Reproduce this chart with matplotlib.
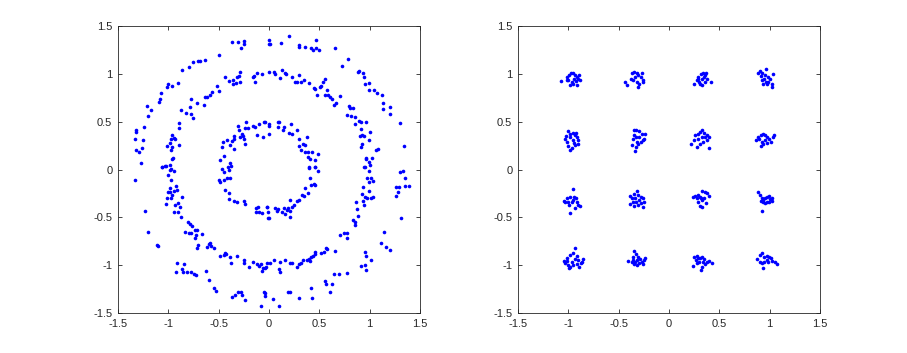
import numpy as np
import matplotlib.pyplot as plt

# left panel: three noisy rings
outer_pts = [
    (-0.365, 1.339), (-0.306, 1.339), (-0.250, 1.346), (-0.243, 1.308), (-0.273, 1.273),
    (0.000, 1.360), (0.002, 1.318), (-0.498, 1.193), (-0.630, 1.147), (-0.680, 1.140),
    (-0.703, 1.137), (-0.753, 1.130), (-0.793, 1.074), (-0.859, 1.039), (-0.908, 0.907),
    (-0.961, 0.872), (-1.004, 0.890), (-1.008, 0.865), (-1.074, 0.802), (-1.084, 0.740),
    (-1.091, 0.705), (-1.174, 0.628), (-1.213, 0.670), (-1.206, 0.562), (-1.240, 0.447),
    (-1.316, 0.412), (-1.319, 0.388), (-1.329, 0.315), (-1.250, 0.311), (-1.316, 0.203),
    (-1.263, 0.231), (-1.289, 0.182), (-1.266, 0.071),
    (0.011, 1.318), (0.124, 1.322), (0.197, 1.395), (0.299, 1.304), (0.303, 1.283),
    (0.362, 1.283), (0.419, 1.269), (0.438, 1.248), (0.465, 1.269), (0.501, 1.252),
    (0.468, 1.357), (0.657, 1.269), (0.786, 1.154), (0.730, 1.085), (0.882, 1.025),
    (0.892, 1.032), (0.935, 1.005), (0.942, 0.963), (0.958, 0.900), (0.998, 0.910),
    (0.992, 0.830), (1.048, 0.830), (1.074, 0.796), (1.124, 0.775), (1.131, 0.698),
    (1.134, 0.632), (1.200, 0.656), (1.203, 0.580), (1.300, 0.492), (1.346, 0.252),
    (-1.332, -0.110), (-1.230, -0.430), (-1.203, -0.650), (-1.110, -0.789), (-1.100, -0.800),
    (-0.915, -0.981), (-0.839, -0.988), (-0.922, -1.075), (-0.862, -1.040), (-0.852, -1.068),
    (-0.812, -1.068), (-0.776, -1.068), (-0.746, -1.092), (-0.720, -1.103), (-0.624, -1.061),
    (-0.591, -1.155), (-0.548, -1.242), (-0.528, -1.270), (-0.362, -1.336), (-0.339, -1.312),
    (-0.309, -1.284), (-0.273, -1.284), (-0.269, -1.312), (-0.240, -1.364), (-0.081, -1.423),
    (-0.051, -1.284), (-0.041, -1.322),
    (1.306, -0.023), (1.333, -0.016), (1.356, -0.092), (1.389, -0.169), (1.349, -0.169),
    (1.290, -0.180), (1.263, -0.180), (1.280, -0.232), (1.263, -0.274), (1.309, -0.510),
    (1.140, -0.650), (1.117, -0.765), (1.164, -0.807), (1.200, -0.842), (0.952, -0.866),
    (0.965, -0.901), (0.919, -1.005), (0.958, -0.998), (1.011, -0.946), (0.965, -1.050),
    (0.644, -1.092), (0.700, -1.096), (0.776, -1.085), (0.554, -1.166), (0.568, -1.200),
    (0.627, -1.200), (0.611, -1.284), (0.419, -1.242), (0.429, -1.340), (0.296, -1.347),
    (0.213, -1.284), (0.190, -1.277), (0.038, -1.354), (0.104, -1.423), (-0.035, -1.294),
]

middle_pts = [
    (-0.435, 0.970), (-0.398, 0.924), (-0.359, 0.935), (-0.329, 0.907), (-0.302, 0.977),
    (-0.292, 1.022), (-0.319, 0.963), (-0.292, 0.917), (-0.355, 0.900), (-0.153, 0.977),
    (-0.117, 1.005), (-0.070, 0.998), (0.000, 1.022), (-0.143, 0.921), (-0.157, 0.970),
    (-0.514, 0.869), (-0.495, 0.827), (-0.564, 0.816), (-0.587, 0.775), (-0.614, 0.757),
    (-0.637, 0.754), (-0.647, 0.674), (-0.713, 0.701), (-0.776, 0.740), (-0.786, 0.656),
    (-0.872, 0.628), (-0.819, 0.593), (-0.776, 0.586), (-0.753, 0.541), (-0.892, 0.492),
    (-0.895, 0.433), (-0.961, 0.360), (-0.945, 0.335), (-0.935, 0.315), (-0.971, 0.325),
    (-1.011, 0.245), (-0.985, 0.280), (-0.961, 0.238), (-0.975, 0.203), (-0.889, 0.259),
    (-0.948, 0.126), (-0.961, 0.106), (-1.061, 0.029), (-1.028, 0.036), (-0.985, 0.053),
    (-0.975, 0.005),
    (0.048, 1.022), (0.058, 0.998), (0.107, 0.954), (0.131, 1.039), (0.164, 1.005),
    (0.170, 0.998), (0.230, 0.970), (0.263, 0.921), (0.280, 0.917), (0.296, 0.984),
    (0.319, 0.914), (0.346, 0.942), (0.399, 0.904), (0.445, 0.855), (0.462, 0.841),
    (0.478, 0.778), (0.505, 0.865), (0.521, 0.872), (0.538, 0.917), (0.561, 0.945),
    (0.554, 0.775), (0.587, 0.782), (0.581, 0.837), (0.611, 0.761), (0.627, 0.740),
    (0.644, 0.674), (0.667, 0.701), (0.707, 0.768), (0.793, 0.670), (0.803, 0.649),
    (0.833, 0.642), (0.776, 0.569), (0.819, 0.562), (0.859, 0.555), (0.852, 0.475),
    (0.892, 0.510), (0.919, 0.499), (0.965, 0.499), (0.915, 0.423), (1.008, 0.395),
    (0.909, 0.350), (0.929, 0.360), (0.945, 0.350), (0.992, 0.308), (0.925, 0.266),
    (0.919, 0.238), (1.068, 0.210), (1.081, 0.217), (0.965, 0.126), (0.968, 0.106),
    (0.992, 0.081), (1.025, 0.123), (0.952, 0.029), (1.005, 0.046),
    (-1.061, 0.030), (-1.021, 0.040), (-0.978, -0.005), (-0.945, -0.016), (-1.004, -0.058),
    (-0.968, -0.110), (-0.978, -0.197), (-1.001, -0.232), (-0.978, -0.239), (-0.945, -0.221),
    (-0.961, -0.267), (-1.011, -0.301), (-0.968, -0.301), (-0.912, -0.214), (-0.925, -0.176),
    (-0.862, -0.284), (-0.899, -0.354), (-0.928, -0.371), (-0.885, -0.389), (-0.945, -0.441),
    (-0.905, -0.441), (-1.018, -0.364), (-0.872, -0.493), (-0.806, -0.545), (-0.779, -0.573),
    (-0.769, -0.591), (-0.829, -0.657), (-0.789, -0.667), (-0.773, -0.667), (-0.730, -0.632),
    (-0.713, -0.632), (-0.720, -0.685), (-0.730, -0.713), (-0.663, -0.678), (-0.703, -0.789),
    (-0.710, -0.817), (-0.614, -0.807), (-0.594, -0.782), (-0.581, -0.772), (-0.574, -0.796),
    (-0.548, -0.817), (-0.488, -0.901), (-0.448, -0.894), (-0.432, -0.876), (-0.422, -0.887),
    (-0.382, -0.911), (-0.375, -0.981), (-0.322, -0.901), (-0.250, -0.946), (-0.243, -0.981),
    (-0.196, -1.022), (-0.157, -0.970), (-0.117, -0.984), (-0.094, -1.005), (-0.077, -0.991),
    (-0.057, -1.026), (-0.034, -1.016), (-0.018, -0.981), (-0.067, -1.061),
    (0.948, 0.030), (0.998, -0.016), (0.975, -0.092), (1.018, -0.085), (1.031, -0.120),
    (0.992, -0.134), (0.938, -0.180), (0.998, -0.225), (0.925, -0.260), (0.958, -0.284),
    (0.975, -0.301), (1.018, -0.301), (1.031, -0.291), (0.932, -0.329), (0.866, -0.336),
    (0.942, -0.371), (0.876, -0.413), (0.886, -0.483), (0.839, -0.528), (0.852, -0.545),
    (0.859, -0.580), (0.776, -0.667), (0.743, -0.660), (0.710, -0.685), (0.776, -0.720),
    (0.568, -0.817), (0.578, -0.831), (0.544, -0.866), (0.515, -0.876), (0.462, -0.866),
    (0.455, -0.887), (0.438, -0.901), (0.419, -0.911), (0.396, -0.936), (0.405, -0.953),
    (0.379, -0.946), (0.339, -0.943), (0.323, -0.981), (0.296, -0.991), (0.283, -1.016),
    (0.230, -0.981), (0.213, -0.981), (0.157, -0.946), (0.114, -0.963), (0.097, -1.040),
    (0.107, -1.075), (0.048, -0.946), (0.015, -0.981), (-0.035, -1.026), (0.660, -0.852),
]

inner_pts = [
    (-0.223, 0.499), (-0.306, 0.454), (-0.299, 0.412), (-0.233, 0.433), (-0.206, 0.440),
    (-0.160, 0.461), (-0.143, 0.447), (-0.097, 0.482), (-0.047, 0.496), (0.000, 0.482),
    (-0.117, 0.363), (-0.057, 0.342), (-0.266, 0.377), (-0.243, 0.322), (-0.256, 0.350),
    (-0.289, 0.342), (-0.349, 0.350), (-0.365, 0.297), (-0.349, 0.315), (-0.382, 0.255),
    (-0.415, 0.308), (-0.455, 0.290), (-0.468, 0.238), (-0.448, 0.140), (-0.342, 0.217),
    (-0.236, 0.266), (-0.481, 0.098), (-0.389, 0.071), (-0.409, 0.029), (-0.375, 0.039),
    (-0.035, 0.499), (-0.002, 0.454), (0.091, 0.499), (0.104, 0.499), (0.091, 0.447),
    (0.147, 0.447), (0.137, 0.412), (-0.002, 0.377), (0.223, 0.482), (0.197, 0.384),
    (0.230, 0.377), (0.280, 0.419), (0.303, 0.318), (0.376, 0.336), (0.339, 0.273),
    (0.356, 0.262), (0.303, 0.245), (0.319, 0.203), (0.362, 0.186), (0.386, 0.186),
    (0.429, 0.186), (0.488, 0.168), (0.389, 0.133), (0.412, 0.106), (0.455, 0.098),
    (0.396, 0.029), (0.462, 0.029),
    (-0.465, 0.002), (-0.442, -0.030), (-0.398, -0.005), (-0.498, -0.110), (-0.481, -0.127),
    (-0.448, -0.110), (-0.415, -0.092), (-0.389, -0.085), (-0.432, -0.214), (-0.399, -0.249),
    (-0.392, -0.308), (-0.342, -0.326), (-0.322, -0.336), (-0.250, -0.329), (-0.240, -0.364),
    (-0.130, -0.399), (-0.110, -0.389), (-0.100, -0.441), (-0.130, -0.448), (-0.067, -0.451),
    (-0.018, -0.389), (-0.011, -0.510),
    (-0.018, -0.389), (-0.009, -0.441), (-0.002, -0.504), (0.064, -0.406), (0.081, -0.434),
    (0.091, -0.416), (0.131, -0.441), (0.147, -0.406), (0.164, -0.469), (0.180, -0.423),
    (0.190, -0.399), (0.213, -0.493), (0.213, -0.434), (0.230, -0.389), (0.246, -0.371),
    (0.210, -0.319), (0.280, -0.329), (0.296, -0.315), (0.329, -0.267), (0.346, -0.274),
    (0.362, -0.190), (0.389, -0.249), (0.422, -0.162), (0.405, -0.092), (0.445, -0.152),
    (0.462, -0.162), (0.396, 0.012), (0.462, 0.030), (0.488, -0.016),
]

# right panel: 16 clusters
qam_pts = [
    (-1.076, 0.928), (-1.009, 0.963), (-0.990, 0.987), (-0.973, 1.005), (-0.950, 1.005),
    (-0.933, 0.987), (-0.917, 0.970), (-0.900, 0.952), (-0.884, 0.935), (-0.956, 0.900),
    (-0.917, 0.883), (-0.966, 0.917), (-0.999, 0.942), (-0.943, 0.952), (-0.923, 0.928),
    (-0.983, 0.883), (-1.016, 0.935), (-0.894, 0.987),
    (-0.437, 0.917), (-0.420, 0.883), (-0.370, 1.005), (-0.347, 1.022), (-0.321, 1.011),
    (-0.304, 0.987), (-0.281, 0.970), (-0.261, 0.942), (-0.254, 0.917), (-0.321, 0.917),
    (-0.354, 0.935), (-0.294, 0.900), (-0.304, 0.865), (-0.380, 0.952), (-0.337, 0.963),
    (-0.271, 1.005),
    (-0.999, 0.405), (-0.983, 0.377), (-0.950, 0.384), (-0.933, 0.360), (-0.917, 0.342),
    (-0.900, 0.308), (-0.907, 0.273), (-0.933, 0.255), (-0.966, 0.231), (-0.983, 0.210),
    (-0.999, 0.245), (-1.033, 0.325), (-1.016, 0.290), (-0.956, 0.308), (-0.983, 0.342),
    (-0.943, 0.280), (-0.923, 0.384), (-1.023, 0.350),
    (-0.347, 0.412), (-0.327, 0.419), (-0.294, 0.405), (-0.271, 0.377), (-0.238, 0.377),
    (-0.254, 0.308), (-0.281, 0.290), (-0.304, 0.266), (-0.327, 0.238), (-0.337, 0.196),
    (-0.370, 0.255), (-0.360, 0.325), (-0.327, 0.342), (-0.347, 0.360), (-0.294, 0.342),
    (-0.321, 0.290), (-0.248, 0.325),
    (0.251, 0.900), (0.275, 0.935), (0.291, 0.970), (0.318, 0.998), (0.341, 1.011),
    (0.357, 0.987), (0.374, 0.952), (0.357, 0.917), (0.324, 0.883), (0.308, 0.900),
    (0.417, 0.917), (0.331, 0.952), (0.298, 0.917), (0.351, 0.963), (0.285, 0.952),
    (0.364, 1.011),
    (0.887, 1.005), (0.904, 1.032), (0.927, 1.005), (0.963, 1.057), (0.953, 0.987),
    (0.947, 0.952), (0.920, 0.942), (0.937, 0.900), (0.970, 0.893), (0.986, 0.917),
    (1.020, 0.893), (1.026, 0.865), (1.003, 0.952), (1.036, 0.998), (0.960, 0.917),
    (0.914, 0.977), (0.986, 0.970),
    (0.218, 0.266), (0.258, 0.360), (0.285, 0.377), (0.308, 0.395), (0.331, 0.412),
    (0.351, 0.384), (0.374, 0.360), (0.397, 0.342), (0.374, 0.308), (0.341, 0.290),
    (0.308, 0.273), (0.275, 0.238), (0.291, 0.315), (0.324, 0.342), (0.397, 0.221),
    (0.251, 0.308), (0.357, 0.336),
    (0.861, 0.308), (0.887, 0.336), (0.914, 0.360), (0.937, 0.377), (0.953, 0.360),
    (0.970, 0.336), (0.993, 0.315), (1.013, 0.290), (1.036, 0.342), (1.046, 0.360),
    (0.970, 0.280), (0.937, 0.266), (0.914, 0.245), (0.953, 0.308), (0.920, 0.290),
    (0.897, 0.315),
    (-0.956, -0.204), (-0.983, -0.284), (-1.016, -0.301), (-1.043, -0.329), (-0.999, -0.336),
    (-0.966, -0.343), (-0.950, -0.319), (-0.923, -0.301), (-0.917, -0.343), (-0.900, -0.371),
    (-0.884, -0.378), (-0.933, -0.399), (-0.990, -0.371), (-0.983, -0.458), (-1.033, -0.343),
    (-0.943, -0.284),
    (-0.321, -0.225), (-0.347, -0.260), (-0.387, -0.274), (-0.304, -0.267), (-0.281, -0.284),
    (-0.261, -0.301), (-0.248, -0.336), (-0.281, -0.354), (-0.304, -0.371), (-0.327, -0.343),
    (-0.360, -0.336), (-0.387, -0.364), (-0.347, -0.378), (-0.254, -0.389), (-0.294, -0.319),
    (-0.337, -0.301), (-0.370, -0.301),
    (-0.933, -0.817), (-0.950, -0.876), (-0.983, -0.894), (-1.016, -0.922), (-1.043, -0.956),
    (-1.033, -0.981), (-0.999, -0.998), (-0.983, -1.016), (-0.950, -0.998), (-0.917, -0.991),
    (-0.890, -1.016), (-0.867, -0.963), (-0.851, -0.935), (-0.900, -0.946), (-0.933, -0.935),
    (-0.966, -0.963), (-1.009, -0.956), (-0.917, -0.901), (-0.990, -1.026), (-0.877, -0.981),
    (-0.347, -0.852), (-0.327, -0.887), (-0.354, -0.911), (-0.404, -0.956), (-0.370, -0.970),
    (-0.347, -0.991), (-0.321, -0.998), (-0.294, -0.981), (-0.271, -0.963), (-0.248, -0.946),
    (-0.238, -0.922), (-0.288, -0.935), (-0.314, -0.946), (-0.337, -0.963), (-0.304, -0.911),
    (-0.261, -0.991), (-0.360, -0.946),
    (0.241, -0.284), (0.258, -0.274), (0.285, -0.267), (0.308, -0.284), (0.331, -0.225),
    (0.357, -0.232), (0.374, -0.249), (0.397, -0.274), (0.351, -0.301), (0.324, -0.319),
    (0.291, -0.336), (0.308, -0.378), (0.331, -0.389), (0.364, -0.354), (0.275, -0.301),
    (0.318, -0.301),
    (0.880, -0.239), (0.904, -0.267), (0.920, -0.294), (0.937, -0.319), (0.953, -0.301),
    (0.970, -0.284), (0.993, -0.274), (1.020, -0.294), (1.026, -0.329), (0.993, -0.343),
    (0.970, -0.336), (0.937, -0.343), (0.914, -0.329), (0.927, -0.434), (0.953, -0.354),
    (1.003, -0.308),
    (0.241, -1.005), (0.251, -0.911), (0.275, -0.901), (0.291, -0.922), (0.308, -0.929),
    (0.331, -0.911), (0.351, -0.935), (0.374, -0.963), (0.424, -0.981), (0.397, -0.956),
    (0.357, -0.991), (0.324, -1.016), (0.318, -1.050), (0.275, -0.981), (0.265, -0.946),
    (0.298, -0.970), (0.341, -0.963),
    (0.871, -0.935), (0.904, -0.894), (0.927, -0.876), (0.947, -0.911), (0.970, -0.901),
    (0.993, -0.911), (1.013, -0.929), (1.026, -0.956), (1.053, -0.970), (1.069, -0.991),
    (0.970, -0.946), (0.947, -0.963), (0.927, -0.981), (0.937, -1.026), (0.904, -0.963),
    (0.986, -0.963),
]

ticks = [-1.5, -1, -0.5, 0, 0.5, 1, 1.5]
tick_labels = ["-1.5", "-1", "-0.5", "0", "0.5", "1", "1.5"]

plt.rcParams["font.family"] = ["Liberation Sans", "DejaVu Sans"]

fig = plt.figure(figsize=(9.07, 3.53), dpi=100)
ax_left = fig.add_axes([0.130, 0.113, 0.333, 0.813])
ax_right = fig.add_axes([0.571, 0.113, 0.333, 0.813])

left_pts = np.array(outer_pts + middle_pts + inner_pts)
right_pts = np.array(qam_pts)

for ax, pts in ((ax_left, left_pts), (ax_right, right_pts)):
    ax.plot(pts[:, 0], pts[:, 1], linestyle="none", marker="o",
            markersize=2.6, color="#0000ff", markeredgewidth=0)
    ax.set_xlim(-1.5, 1.5)
    ax.set_ylim(-1.5, 1.5)
    ax.set_xticks(ticks)
    ax.set_xticklabels(tick_labels)
    ax.set_yticks(ticks)
    ax.set_yticklabels(tick_labels)
    ax.tick_params(direction="in", length=3, width=0.6, top=True, right=True,
                   labelsize=8, colors="#262626", pad=4)
    for spine in ax.spines.values():
        spine.set_color("#262626")
        spine.set_linewidth(0.6)

fig.savefig("out.png", dpi=100)
